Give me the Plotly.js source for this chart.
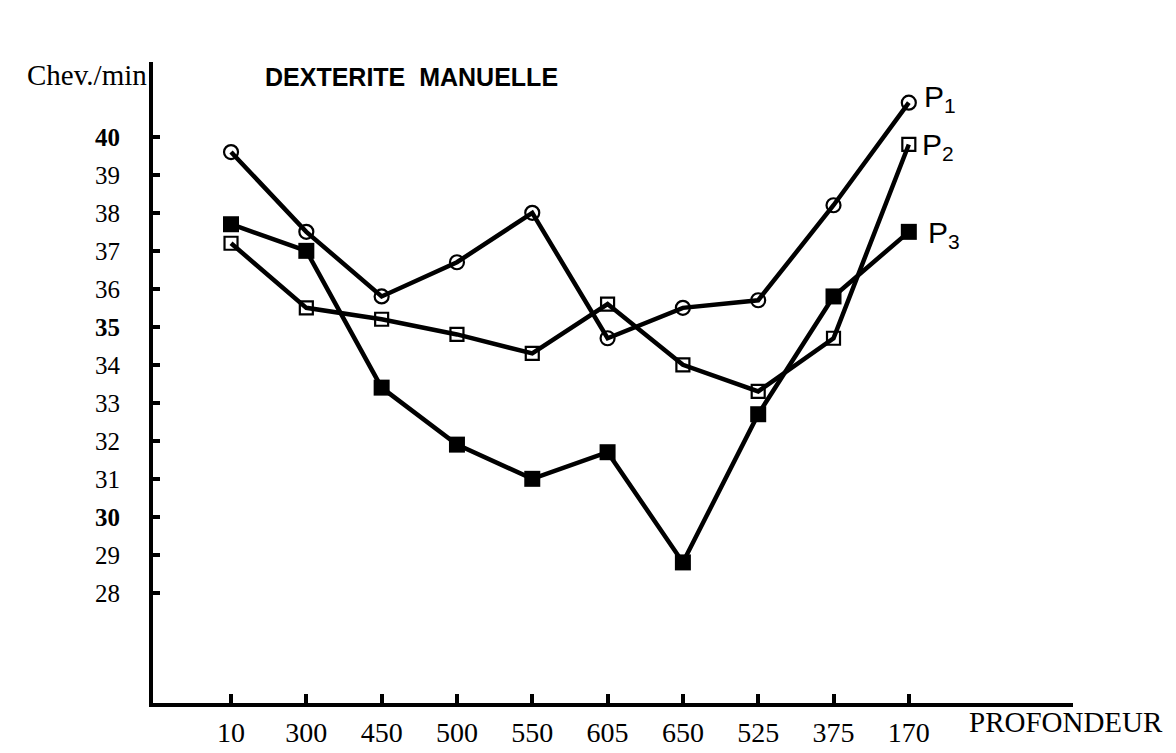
<!DOCTYPE html>
<html>
<head>
<meta charset="utf-8">
<script src="https://cdn.plot.ly/plotly-3.0.1.min.js"></script>
<style>html,body{margin:0;padding:0;background:#fff;}#chart{width:1176px;height:753px;}</style>
</head>
<body>
<div id="chart"></div>
<script>
// Profondeur categories (x axis, in the order shown)
const profondeur = ["10", "300", "450", "500", "550", "605", "650", "525", "375", "170"];
// Chev./min for each subject
const p1 = [39.6, 37.5, 35.8, 36.7, 38.0, 34.7, 35.5, 35.7, 38.2, 40.9];
const p2 = [37.2, 35.5, 35.2, 34.8, 34.3, 35.6, 34.0, 33.3, 34.7, 39.8];
const p3 = [37.7, 37.0, 33.4, 31.9, 31.0, 31.7, 28.8, 32.7, 35.8, 37.5];
// Y ticks
const yTickVals = [28, 29, 30, 31, 32, 33, 34, 35, 36, 37, 38, 39, 40];
const yTickText = ["28", "29", "<b>30</b>", "31", "32", "33", "34", "<b>35</b>", "36", "37", "38", "39", "<b>40</b>"];
const seriesNames = ["P<sub>1</sub>", "P<sub>2</sub>", "P<sub>3</sub>"];

const xIdx = profondeur.map((_, i) => i);
const lineStyle = {color: "#000", width: 4.5};

const traces = [
  {x: xIdx, y: p1, mode: "lines+markers", name: "P1", line: lineStyle,
   marker: {symbol: "circle-open", size: 14, color: "#000", line: {width: 2.2, color: "#000"}}},
  {x: xIdx, y: p2, mode: "lines+markers", name: "P2", line: lineStyle,
   marker: {symbol: "square-open", size: 13, color: "#000", line: {width: 2.2, color: "#000"}}},
  {x: xIdx, y: p3, mode: "lines+markers", name: "P3", line: lineStyle,
   marker: {symbol: "square", size: 16, color: "#000", line: {width: 0}}}
];

const serif = "Liberation Serif, Times New Roman, serif";
const sans = "Liberation Sans, Arial, sans-serif";

const layout = {
  width: 1176, height: 753,
  margin: {l: 153, r: 103, t: 62, b: 50},
  paper_bgcolor: "#fff", plot_bgcolor: "#fff",
  showlegend: false,
  xaxis: {
    range: [-1.036, 11.18],
    tickmode: "array", tickvals: xIdx, ticktext: profondeur,
    ticks: "inside", ticklen: 9, tickwidth: 4, tickcolor: "#000",
    showline: true, linewidth: 4, linecolor: "#000",
    showgrid: false, zeroline: false,
    ticklabelstandoff: 1,
    tickfont: {family: serif, size: 28, color: "#000"}
  },
  yaxis: {
    range: [25.1, 41.97],
    tickmode: "array", tickvals: yTickVals, ticktext: yTickText,
    ticks: "inside", ticklen: 7, tickwidth: 4, tickcolor: "#000",
    showline: true, linewidth: 4, linecolor: "#000",
    showgrid: false, zeroline: false,
    ticklabelstandoff: 24,
    tickfont: {family: serif, size: 25, color: "#000"}
  },
  annotations: [
    {text: "<b>DEXTERITE  MANUELLE</b>", xref: "paper", yref: "paper", x: 0.1196, y: 0.977,
     xanchor: "left", yanchor: "middle", showarrow: false,
     font: {family: sans, size: 25, color: "#000"}},
    {text: "Chev./min", xref: "paper", yref: "paper", x: -0.004, y: 0.98,
     xanchor: "right", yanchor: "middle", showarrow: false,
     font: {family: serif, size: 29, color: "#000"}},
    {text: "PROFONDEUR", xref: "paper", yref: "paper", x: 0.885, y: -0.03,
     xanchor: "left", yanchor: "middle", showarrow: false,
     font: {family: serif, size: 29, color: "#000"}},
    {text: seriesNames[0], xref: "x", yref: "y", x: 9, y: p1[9], xshift: 13, yshift: 4,
     xanchor: "left", yanchor: "middle", showarrow: false,
     font: {family: sans, size: 30, color: "#000"}},
    {text: seriesNames[1], xref: "x", yref: "y", x: 9, y: p2[9], xshift: 11, yshift: -2,
     xanchor: "left", yanchor: "middle", showarrow: false,
     font: {family: sans, size: 30, color: "#000"}},
    {text: seriesNames[2], xref: "x", yref: "y", x: 9, y: p3[9], xshift: 17, yshift: -3,
     xanchor: "left", yanchor: "middle", showarrow: false,
     font: {family: sans, size: 30, color: "#000"}}
  ]
};

Plotly.newPlot("chart", traces, layout, {displayModeBar: false, staticPlot: true});
</script>
</body>
</html>
